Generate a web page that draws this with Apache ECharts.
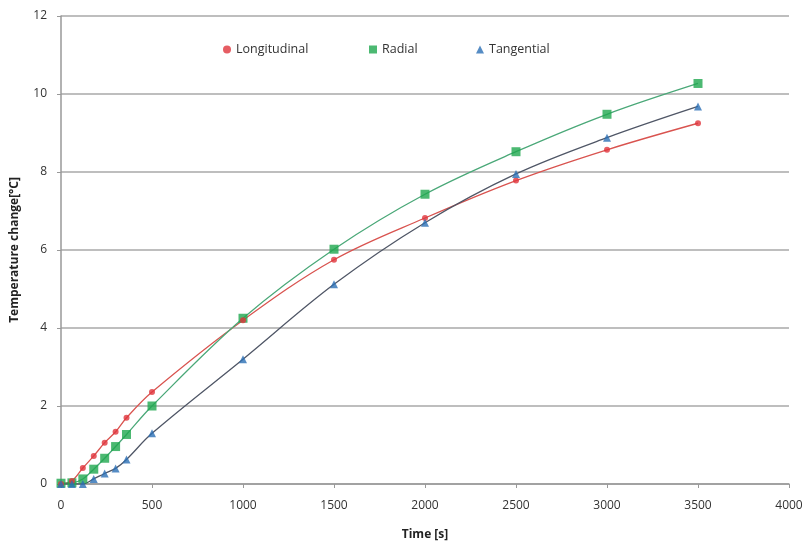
<!DOCTYPE html>
<html><head><meta charset="utf-8">
<script src="https://cdn.jsdelivr.net/npm/echarts@6/dist/echarts.min.js"></script>
<style>html,body{margin:0;padding:0;background:#fff}#c{width:805px;height:541px}</style>
</head><body><div id="c"></div>
<script>
const times = [0, 60, 120, 180, 240, 300, 360, 500, 1000, 1500, 2000, 2500, 3000, 3500];
const longitudinal = [0, 0.08, 0.41, 0.72, 1.06, 1.34, 1.70, 2.36, 4.20, 5.75, 6.82, 7.78, 8.57, 9.25];
const radial = [0.02, 0.03, 0.13, 0.38, 0.66, 0.96, 1.27, 2.00, 4.25, 6.02, 7.43, 8.52, 9.48, 10.27];
const tangential = [0, 0, 0, 0.13, 0.27, 0.40, 0.63, 1.30, 3.20, 5.12, 6.70, 7.95, 8.88, 9.68];
const xTicks = [0, 500, 1000, 1500, 2000, 2500, 3000, 3500, 4000];
const yTicks = [0, 2, 4, 6, 8, 10, 12];
const seriesNames = ['Longitudinal', 'Radial', 'Tangential'];

const pairs = v => times.map((t, i) => [t, v[i]]);
const font = '"Open Sans", Lato, sans-serif';
const chart = echarts.init(document.getElementById('c'), null, {renderer: 'canvas'});
const lineStyleFor = c => ({color: c, width: 1.3});
const legendText = {fontFamily: font, fontSize: 12.5, color: '#333'};
const legendIcons = ['circle', 'rect', 'triangle'];
const legendLefts = [218, 364, 471];
chart.setOption({
  animation: false,
  backgroundColor: '#fff',
  grid: {left: 61, right: 16, top: 16, bottom: 57, outerBoundsMode: 'none', containLabel: false},
  legend: seriesNames.map((n, i) => ({
    top: 38, left: legendLefts[i], itemWidth: 8, itemHeight: 8, itemGap: 6,
    textStyle: legendText, data: [{name: n, icon: legendIcons[i]}]
  })),
  xAxis: {
    type: 'value', min: xTicks[0], max: xTicks[xTicks.length - 1], interval: 500,
    name: 'Time [s]', nameLocation: 'middle', nameGap: 45,
    nameTextStyle: {fontFamily: font, fontWeight: 'bold', fontSize: 12, color: '#222'},
    axisLine: {lineStyle: {color: '#999', width: 1.5}},
    axisTick: {show: true, length: 4, lineStyle: {color: '#999'}},
    axisLabel: {fontFamily: font, fontSize: 12, color: '#333', margin: 16, formatter: v => String(v)},
    splitLine: {show: false}
  },
  yAxis: {
    type: 'value', min: yTicks[0], max: yTicks[yTicks.length - 1], interval: 2,
    name: 'Temperature change[°C]', nameLocation: 'middle', nameGap: 40, nameRotate: 90,
    nameTextStyle: {fontFamily: font, fontWeight: 'bold', fontSize: 12, color: '#222'},
    axisLine: {show: true, lineStyle: {color: '#999', width: 1.5}},
    axisTick: {show: true, length: 4, lineStyle: {color: '#999'}},
    axisLabel: {fontFamily: font, fontSize: 12, color: '#333', margin: 14, formatter: v => String(v)},
    splitLine: {show: true, lineStyle: {color: '#a8a8a8', width: 1.5}}
  },
  series: [
    {name: 'Longitudinal trend', type: 'line', smooth: 0.35, showSymbol: false, silent: true,
     data: pairs(longitudinal), lineStyle: lineStyleFor('#d9534f'), z: 1},
    {name: 'Radial trend', type: 'line', smooth: 0.35, showSymbol: false, silent: true,
     data: pairs(radial), lineStyle: lineStyleFor('#4aa878'), z: 1},
    {name: 'Tangential trend', type: 'line', smooth: 0.35, showSymbol: false, silent: true,
     data: pairs(tangential), lineStyle: lineStyleFor('#4f5666'), z: 1},
    {name: seriesNames[0], type: 'scatter', symbol: 'circle', symbolSize: 6,
     itemStyle: {color: '#e0343c'}, data: pairs(longitudinal), z: 3},
    {name: seriesNames[1], type: 'scatter', symbol: 'rect', symbolSize: 9,
     itemStyle: {color: '#1fa84f'}, data: pairs(radial), z: 2},
    {name: seriesNames[2], type: 'scatter', symbol: 'triangle', symbolSize: 8,
     itemStyle: {color: '#2b6fb5'}, data: pairs(tangential), z: 4}
  ]
});
</script></body></html>
